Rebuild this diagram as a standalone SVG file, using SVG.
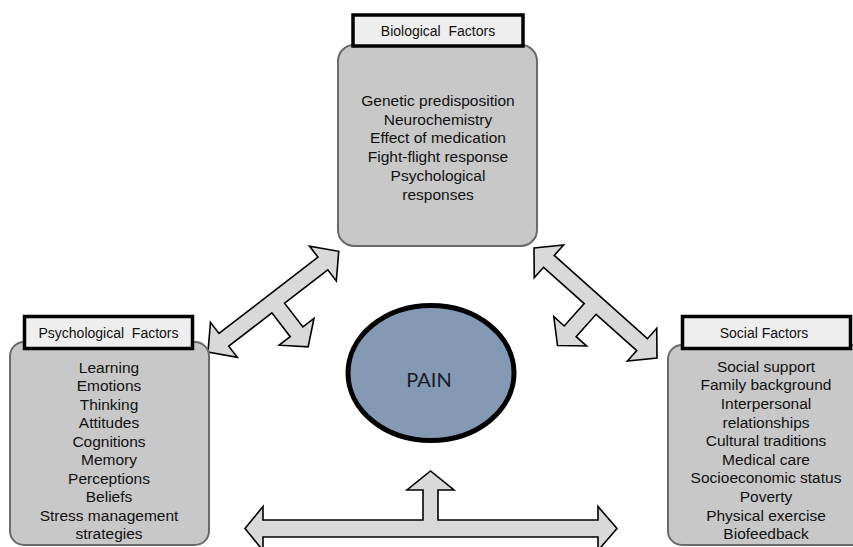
<svg xmlns="http://www.w3.org/2000/svg" width="853" height="547" viewBox="0 0 853 547">
<defs>
<style>
.box{fill:#c8c8c8;stroke:#6a6a6a;stroke-width:2}
.hdr{fill:#eeeeee;stroke:#000;stroke-width:3.5}
.ht{font-family:"Liberation Sans",Arial,sans-serif;font-size:14px;fill:#111;text-anchor:middle;white-space:pre}
.bt{font-family:"Liberation Sans",Arial,sans-serif;font-size:15.5px;fill:#111;text-anchor:middle}
.arr{fill:#d9d9d9;stroke:#000;stroke-width:1.6;stroke-linejoin:miter}
</style>
<path id="dbl" d="M0,0 L20,-22 L20,-8 L145,-8 L145,-22 L165,0 L145,22 L145,8 L90.5,8 L90.5,38 L104.5,38 L82.5,57 L60.5,38 L74.5,38 L74.5,8 L20,8 L20,22 Z"/>
</defs>
<rect width="853" height="547" fill="#fff"/>
<g id="connectors">
<use href="#dbl" class="arr" transform="translate(208,352) rotate(-37.6)"/>
<use href="#dbl" class="arr" transform="translate(534,248) rotate(41.8)"/>
<path class="arr" d="M245,528.5 L263,506.5 L263,520 L423,520 L423,490 L407,490 L430.5,471 L454,490 L438,490 L438,520 L598,520 L598,506.5 L617,528.5 L598,550.5 L598,537 L263,537 L263,550.5 Z"/>
</g>
<g id="biological">
<rect class="box" x="338" y="45" width="199" height="201" rx="16"/>
<rect class="hdr" x="353" y="15" width="170" height="31"/>
<text class="ht" x="438" y="36">Biological  Factors</text>
<text class="bt" x="438" y="106">Genetic predisposition</text>
<text class="bt" x="438" y="124.7">Neurochemistry</text>
<text class="bt" x="438" y="143.4">Effect of medication</text>
<text class="bt" x="438" y="162.1">Fight-flight response</text>
<text class="bt" x="438" y="180.8">Psychological</text>
<text class="bt" x="438" y="199.5">responses</text>
</g>
<g id="psychological">
<rect class="box" x="10" y="342" width="199" height="203" rx="14"/>
<rect class="hdr" x="24.5" y="316.5" width="168" height="32"/>
<text class="ht" x="108.5" y="338">Psychological  Factors</text>
<text class="bt" x="109" y="372.7">Learning</text>
<text class="bt" x="109" y="391.2">Emotions</text>
<text class="bt" x="109" y="409.7">Thinking</text>
<text class="bt" x="109" y="428.2">Attitudes</text>
<text class="bt" x="109" y="446.7">Cognitions</text>
<text class="bt" x="109" y="465.2">Memory</text>
<text class="bt" x="109" y="483.7">Perceptions</text>
<text class="bt" x="109" y="502.2">Beliefs</text>
<text class="bt" x="109" y="520.7">Stress management</text>
<text class="bt" x="109" y="539.2">strategies</text>
</g>
<g id="social">
<rect class="box" x="668" y="345" width="200" height="200" rx="14"/>
<rect class="hdr" x="682.5" y="316.5" width="168" height="32"/>
<text class="ht" x="764" y="338">Social Factors</text>
<text class="bt" x="766" y="371.7">Social support</text>
<text class="bt" x="766" y="390.3">Family background</text>
<text class="bt" x="766" y="408.9">Interpersonal</text>
<text class="bt" x="766" y="427.5">relationships</text>
<text class="bt" x="766" y="446.1">Cultural traditions</text>
<text class="bt" x="766" y="464.7">Medical care</text>
<text class="bt" x="766" y="483.3">Socioeconomic status</text>
<text class="bt" x="766" y="501.9">Poverty</text>
<text class="bt" x="766" y="520.5">Physical exercise</text>
<text class="bt" x="766" y="539.1">Biofeedback</text>
</g>
<g id="pain">
<ellipse cx="431" cy="373" rx="83" ry="67.5" fill="#8499b4" stroke="#000" stroke-width="5"/>
<text x="429" y="387" font-family="Lato,'Open Sans',sans-serif" font-size="20" fill="#1a1c2a" text-anchor="middle">PAIN</text>
</g>
</svg>
